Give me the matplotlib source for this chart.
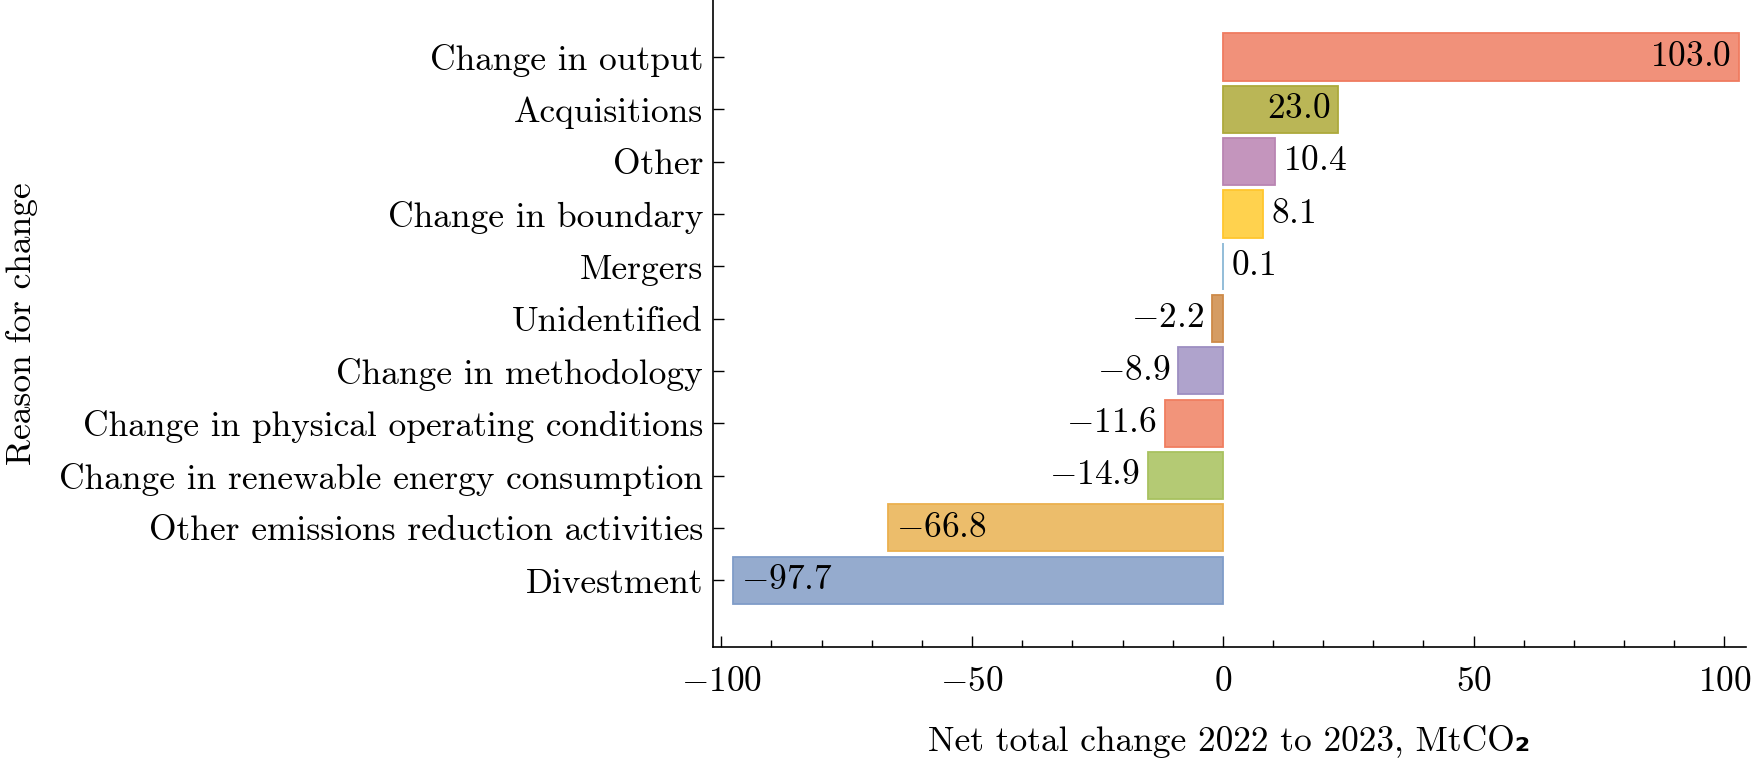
import matplotlib
matplotlib.use('Agg')
import matplotlib.pyplot as plt
from matplotlib.ticker import MultipleLocator

reasons = ['Divestment', 'Other emissions reduction activities',
           'Change in renewable energy consumption',
           'Change in physical operating conditions', 'Change in methodology',
           'Unidentified', 'Mergers', 'Change in boundary', 'Other',
           'Acquisitions', 'Change in output']
values = [-97.7, -66.8, -14.9, -11.6, -8.9, -2.2, 0.1, 8.1, 10.4, 23.0, 103.0]
face_colors = ['#95abce', '#ecbd6b', '#b4ca74', '#f2947a', '#afa3cc', '#d59c63',
               '#a6c8e0', '#ffd24e', '#c495bd', '#bab656', '#f1917a']
edge_colors = ['#7f9cc8', '#ebb04e', '#a8c260', '#f07e60', '#9d8fc2', '#ce8a48',
               '#8ab8d6', '#ffc62e', '#b985b2', '#ada93c', '#ef7b60']

plt.rcParams['font.family'] = 'serif'
plt.rcParams['font.serif'] = ['cmr10']
plt.rcParams['mathtext.fontset'] = 'cm'
plt.rcParams['axes.formatter.use_mathtext'] = True
plt.rcParams['font.size'] = 25.5

fig = plt.figure(figsize=(17.6, 7.65), dpi=100)
ax = fig.add_axes([0.405, 0.154, 0.587, 0.846])

ypos = range(len(reasons))
ax.barh(ypos, values, height=0.9, color=face_colors, edgecolor=edge_colors,
        linewidth=1.3)

for y, v in zip(ypos, values):
    txt = f'${v:.1f}$'
    if abs(v) >= 20:
        off = -8 if v > 0 else 8
        ha = 'right' if v > 0 else 'left'
    else:
        off = 8 if v >= 0 else -8
        ha = 'left' if v >= 0 else 'right'
    ax.annotate(txt, (v, y), xytext=(off, 0), textcoords='offset pixels',
                ha=ha, va='center', fontsize=25.5)

ax.set_yticks(list(ypos))
ax.set_yticklabels(reasons)
ax.set_xlim(-101.7, 104.3)
ax.set_ylim(-1.28, 11.09)
ax.xaxis.set_major_locator(MultipleLocator(50))
ax.xaxis.set_minor_locator(MultipleLocator(10))

ax.spines['top'].set_visible(False)
ax.spines['right'].set_visible(False)
for s in ['left', 'bottom']:
    ax.spines[s].set_linewidth(1.2)

ax.tick_params(axis='both', which='major', direction='in', length=8, width=1.0)
ax.tick_params(axis='x', which='minor', direction='in', length=5, width=1.0)
ax.tick_params(axis='y', which='major', pad=7)
ax.tick_params(axis='x', which='major', pad=14)

# the subscript falls back to DejaVu Sans Bold, as in the original
ax.set_xlabel('Net total change 2022 to 2023, MtCO\u2082', labelpad=19,
              family=['cmr10', 'DejaVu Sans'], weight='bold')
ax.set_ylabel('Reason for change', labelpad=15)

fig.savefig('out.png', dpi=100)
